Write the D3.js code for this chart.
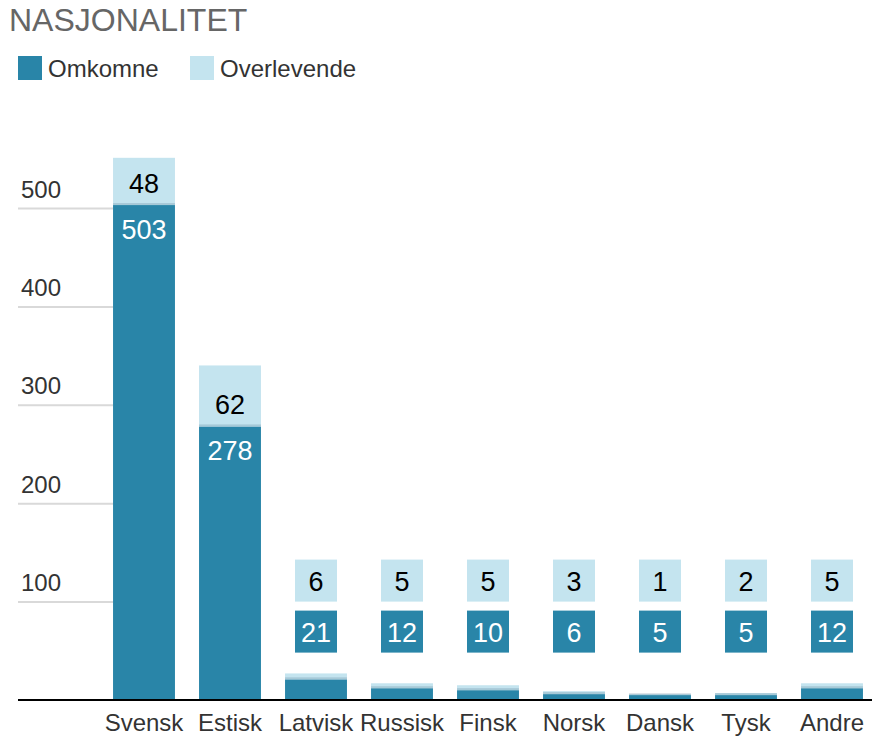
<!DOCTYPE html>
<html>
<head>
<meta charset="utf-8">
<script src="https://cdn.jsdelivr.net/npm/d3@7"></script>
<style>
  body { margin: 0; background: #fff; }
  text { font-family: "Liberation Sans", Arial, Helvetica, sans-serif; }
</style>
</head>
<body>
<div id="chart"></div>
<script>
var categories = ["Svensk", "Estisk", "Latvisk", "Russisk", "Finsk", "Norsk", "Dansk", "Tysk", "Andre"];
var omkomne = [503, 278, 21, 12, 10, 6, 5, 5, 12];
var overlevende = [48, 62, 6, 5, 5, 3, 1, 2, 5];
var yTicks = [100, 200, 300, 400, 500];
var seriesNames = ["Omkomne", "Overlevende"];

var width = 872, height = 744;
var darkColor = "#2985a8", lightColor = "#c4e4ef";

var data = categories.map(function (c, i) {
    return { name: c, Omkomne: omkomne[i], Overlevende: overlevende[i] };
});

var svg = d3.select("#chart").append("svg")
    .attr("width", width)
    .attr("height", height);

// title
svg.append("text")
    .attr("x", 9)
    .attr("y", 31)
    .style("font-size", "32px")
    .style("fill", "#666")
    .text("NASJONALITET");

// legend
var legend = svg.selectAll(".legend")
    .data(seriesNames)
    .enter().append("g")
    .attr("transform", function (d, i) { return "translate(" + (18 + i * 172) + ",56)"; });
legend.append("rect")
    .attr("width", 24)
    .attr("height", 24)
    .style("fill", function (d, i) { return i == 0 ? darkColor : lightColor; });
legend.append("text")
    .attr("x", 30)
    .attr("y", 21)
    .style("font-size", "24px")
    .style("fill", "#333")
    .text(function (d) { return d; });

// scales
var x = d3.scaleBand()
    .domain(categories)
    .range([101, 875])
    .paddingInner(0.28)
    .paddingOuter(0.14);
var y = d3.scaleLinear()
    .domain([0, 500])
    .range([700, 208]);

// gridlines (only left of the first bar) + y labels
var yAxis = svg.append("g")
    .attr("transform", "translate(18,0)")
    .call(d3.axisLeft(y).tickValues(yTicks).tickSize(-(x(categories[0]) - 18)));
yAxis.select(".domain").remove();
yAxis.selectAll(".tick line")
    .style("stroke", "#d9d9d9")
    .style("stroke-width", 2);
yAxis.selectAll(".tick text")
    .attr("x", 3)
    .attr("dy", -11)
    .attr("text-anchor", "start")
    .style("font-size", "24px")
    .style("font-family", "'Liberation Sans', Arial, sans-serif")
    .style("fill", "#333");

// stacked bars
var stack = d3.stack().keys(seriesNames);
var layers = stack(data);

svg.selectAll(".layer")
    .data(layers)
    .enter().append("g")
    .attr("class", "layer")
    .style("fill", function (d, i) { return i == 0 ? darkColor : lightColor; })
    .selectAll("rect")
    .data(function (d) { return d; })
    .enter().append("rect")
    .attr("x", function (d) { return x(d.data.name); })
    .attr("width", x.bandwidth())
    .attr("y", function (d) { return y(d[1]); })
    .attr("height", function (d) { return y(d[0]) - y(d[1]); });

// separator between segments
svg.selectAll(".sep")
    .data(data)
    .enter().append("rect")
    .attr("x", function (d) { return x(d.name); })
    .attr("width", x.bandwidth())
    .attr("y", function (d) { return y(d.Omkomne) - 2; })
    .attr("height", 2)
    .style("fill", "rgba(0,50,80,0.15)");

// x axis
svg.append("line")
    .attr("x1", 18)
    .attr("x2", width)
    .attr("y1", y(0))
    .attr("y2", y(0))
    .style("stroke", "#000")
    .style("stroke-width", 2);

var xAxis = svg.append("g")
    .attr("transform", "translate(0," + y(0) + ")")
    .call(d3.axisBottom(x).tickSize(0));
xAxis.select(".domain").remove();
xAxis.selectAll(".tick text")
    .attr("y", 31)
    .attr("dy", 0)
    .style("font-size", "24px")
    .style("font-family", "'Liberation Sans', Arial, sans-serif")
    .style("fill", "#333");

// labels inside big bars
var big = data.filter(function (d) { return d.Omkomne > 100; });
svg.selectAll(".lblTop")
    .data(big)
    .enter().append("text")
    .attr("x", function (d) { return x(d.name) + x.bandwidth() / 2; })
    .attr("y", function (d) { return y(d.Omkomne) - 12; })
    .attr("text-anchor", "middle")
    .style("font-size", "27px")
    .style("fill", "#000")
    .text(function (d) { return d.Overlevende; });
svg.selectAll(".lblBottom")
    .data(big)
    .enter().append("text")
    .attr("x", function (d) { return x(d.name) + x.bandwidth() / 2; })
    .attr("y", function (d) { return y(d.Omkomne) + 34; })
    .attr("text-anchor", "middle")
    .style("font-size", "27px")
    .style("fill", "#fff")
    .text(function (d) { return d.Omkomne; });

// boxed labels above small bars
var small = data.filter(function (d) { return d.Omkomne <= 100; });
var boxW = 42, boxBase = y(100);
var boxes = svg.selectAll(".box")
    .data(small)
    .enter().append("g")
    .attr("transform", function (d) {
        return "translate(" + (x(d.name) + x.bandwidth() / 2) + ",0)";
    });
boxes.append("rect")
    .attr("x", -boxW / 2)
    .attr("y", boxBase - boxW)
    .attr("width", boxW)
    .attr("height", boxW)
    .style("fill", lightColor);
boxes.append("text")
    .attr("y", boxBase - 11)
    .attr("text-anchor", "middle")
    .style("font-size", "27px")
    .style("fill", "#000")
    .text(function (d) { return d.Overlevende; });
boxes.append("rect")
    .attr("x", -boxW / 2)
    .attr("y", boxBase + 9)
    .attr("width", boxW)
    .attr("height", boxW)
    .style("fill", darkColor);
boxes.append("text")
    .attr("y", boxBase + 40)
    .attr("text-anchor", "middle")
    .style("font-size", "27px")
    .style("fill", "#fff")
    .text(function (d) { return d.Omkomne; });
</script>
</body>
</html>
